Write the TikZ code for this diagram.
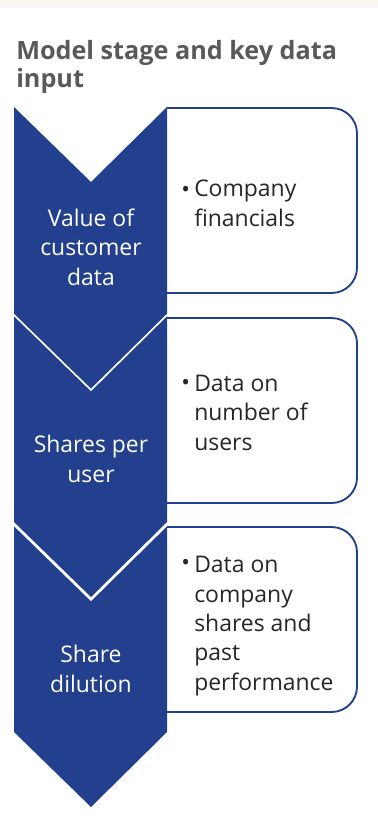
\documentclass[tikz,border=0pt]{standalone}
\usepackage{fontspec}
\setmainfont{Open Sans}
\usepackage{tikz}
\definecolor{stageblue}{RGB}{35,64,142}
\definecolor{ttlgray}{RGB}{89,89,89}
\definecolor{bandtan}{RGB}{250,247,242}
\tikzset{
  stage/.style={fill=stageblue},
  notch/.style={draw=white, line width=1.2pt},
  inbox/.style={draw=stageblue, line width=1.4pt, fill=white, rounded corners=19pt},
  ttl/.style={text=ttlgray, align=left, anchor=base west, inner sep=0pt,
    font=\fontsize{18.9}{20.5}\selectfont\bfseries},
  stagetxt/.style={text=white, align=center, anchor=base, inner sep=0pt,
    font=\fontsize{17.2}{22}\selectfont},
  datatxt/.style={text=black!85, align=left, anchor=base west, inner sep=0pt,
    font=\fontsize{17.2}{22}\selectfont},
  bul/.style={text=black!85, anchor=base west, inner sep=0pt,
    font=\fontsize{17.2}{22}\selectfont},
}

\begin{document}
\begin{tikzpicture}[x=0.75pt, y=-0.75pt]
  \useasboundingbox (0,0) rectangle (378,825);
  \fill[bandtan] (0,0) rectangle (378,8);

  % --- heading (node sits on its last baseline) ---
  \node[ttl] (title) at (16,87) {Model stage and key data\\input};

  % --- data boxes, square side against the chevrons ---
  \foreach \tp in {108,318,527}{
    \draw[inbox] (167,\tp) -- (357,\tp) -- (357,\tp+185) -- (167,\tp+185);
  }

  % --- stage chevrons, each one laid over the tip of the last ---
  \foreach \tp in {107,315,525}{
    \fill[stage] (14,\tp) -- (91,\tp+75) -- (167,\tp) -- (167,\tp+207)
      -- (91,\tp+282) -- (14,\tp+207) -- cycle;
    \ifnum\tp>107
      \draw[notch] (14,\tp) -- (91,\tp+75) -- (167,\tp);
    \fi
  }

  % --- stage names ---
  \node[stagetxt] (s1) at (91,285) {Value of\\customer\\data};
  \node[stagetxt] (s2) at (91,482) {Shares per\\user};
  \node[stagetxt] (s3) at (91,692) {Share\\dilution};

  % --- key data inputs ---
  \node[bul] (b1) at (181,197) {\textbullet};
  \node[datatxt] (d1) at (194,226) {Company\\financials};
  \node[bul] (b2) at (181,390) {\textbullet};
  \node[datatxt] (d2) at (194,450) {Data on\\number of\\users};
  \node[bul] (b3) at (181,570) {\textbullet};
  \node[datatxt] (d3) at (194,690) {Data on\\company\\shares and\\past\\performance};
\end{tikzpicture}
\end{document}
